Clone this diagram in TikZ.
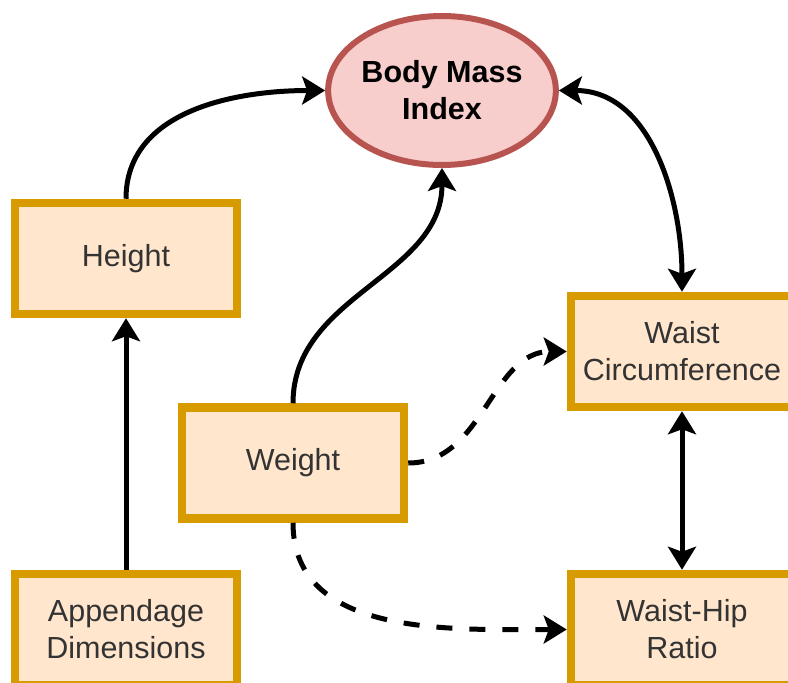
\documentclass[tikz,border=0pt]{standalone}
\usepackage{fontspec}
\setmainfont{Liberation Sans}
\usepackage{tikz}
\usetikzlibrary{arrows.meta,shapes.geometric}
\definecolor{boxfill}{HTML}{FFE6CC}
\definecolor{boxline}{HTML}{D79B00}
\definecolor{bmifill}{HTML}{F8CECC}
\definecolor{bmiline}{HTML}{B85450}
\definecolor{boxtext}{HTML}{333333}
\def\boxwd{222pt}
\def\boxht{111pt}

\begin{document}
\begin{tikzpicture}[x=1pt,y=-1pt,line width=5pt,
    >={Stealth[length=23pt,width=28pt,inset=5pt]}]
    \tikzstyle{factor}=[rectangle,draw=boxline,fill=boxfill,line width=8.5pt,
        minimum width=\boxwd,minimum height=\boxht,inner sep=0pt,align=center,
        text=boxtext,font=\fontsize{30.5}{37}\selectfont]
    \tikzstyle{target}=[ellipse,draw=bmiline,fill=bmifill,line width=6pt,
        minimum width=224pt,minimum height=149pt,inner sep=0pt,align=center,
        font=\fontsize{30.5}{37}\selectfont\bfseries]
    \tikzstyle{link}=[->,draw=black]
    \tikzstyle{maybe}=[link,dash pattern=on 16pt off 17pt]

    \useasboundingbox (0,0) rectangle (788,683);

    % Draw the index node
    \node[target] (bmi) at (442,90.5) {Body Mass\\Index};

    % Draw the measurement nodes
    \node[factor] (height) at (126,258.5) {Height};
    \node[factor] (weight) at (293,463) {Weight};
    \node[factor] (append) at (126,629.5) {Appendage\\Dimensions};
    \node[factor] (waist) at (682,351.5) {Waist\\Circumference};
    \node[factor] (ratio) at (682,629.5) {Waist-Hip\\Ratio};

    % Solid links
    \draw[link] (height.north) to[out=90,in=180] (bmi.west);
    \draw[link] (weight.north) to[out=90,in=-90] (bmi.south);
    \draw[link,<->] (bmi.east) to[out=0,in=90] (waist.north);
    \draw[link,<->] (waist.south) -- (ratio.north);
    \draw[link] (append.north) -- (height.south);

    % Dashed links from weight
    \draw[maybe] (weight.east) to[out=0,in=180] (waist.west);
    \draw[maybe] (weight.south) to[out=-90,in=180] (ratio.west);
\end{tikzpicture}
\end{document}
